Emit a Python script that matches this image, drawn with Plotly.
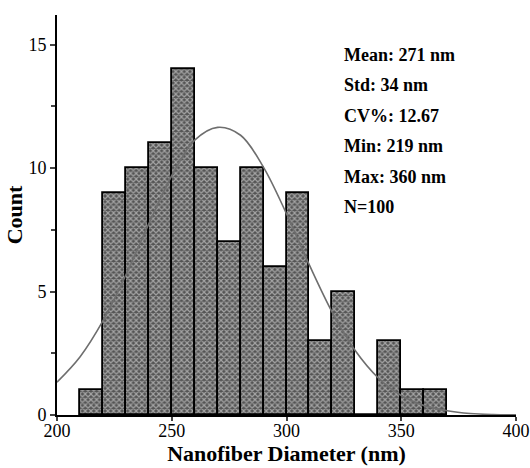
import plotly.graph_objects as go

# Histogram bins (left edges, nm) and counts
bin_left = [210, 220, 230, 240, 250, 260, 270, 280, 290, 300, 310, 320, 330, 340, 350, 360]
counts = [1, 9, 10, 11, 14, 10, 7, 10, 6, 9, 3, 5, 0, 3, 1, 1]
bin_width = 10

# Normal fit curve
curve_x = [200, 210, 220, 230, 240, 250, 260, 270, 280, 290, 300, 310, 320, 330, 340, 350, 360, 370, 380, 390, 400]
curve_y = [1.33, 2.35, 3.81, 5.67, 7.74, 9.69, 11.13, 11.65, 11.33, 10.03, 8.15, 6.07, 4.15, 2.60, 1.50, 0.79, 0.38, 0.17, 0.06, 0.02, 0.01]

stats_lines = ["Mean: 271 nm", "Std: 34 nm", "CV%: 12.67", "Min: 219 nm", "Max: 360 nm", "N=100"]

x_ticks = [200, 250, 300, 350, 400]
y_ticks = [0, 5, 10, 15]

font_family = "Liberation Serif"

fig = go.Figure()
fig.add_trace(go.Bar(
    x=bin_left, y=counts, width=[bin_width] * len(bin_left), offset=0,
    marker=dict(
        color="#545454",
        line=dict(color="black", width=1.8),
        pattern=dict(shape="x", fgcolor="#f4f4f4", bgcolor="#545454", size=4, solidity=0.5),
    ),
    showlegend=False,
))
fig.add_trace(go.Scatter(
    x=curve_x, y=curve_y, mode="lines", line=dict(color="#6e6e6e", width=1.6, shape="spline"),
    showlegend=False,
))

for i, t in enumerate(stats_lines):
    fig.add_annotation(
        x=0.62, xref="paper", y=0.9 - i * 0.076, yref="paper",
        text="<b>" + t + "</b>", showarrow=False, xanchor="left", yanchor="middle",
        font=dict(family=font_family, size=18, color="black"),
    )

fig.update_layout(
    width=530, height=468,
    margin=dict(l=57, r=14, t=15, b=53, autoexpand=False),
    paper_bgcolor="white", plot_bgcolor="white",
    bargap=0,
    font=dict(family=font_family, size=18, color="black"),
)
fig.update_xaxes(
    range=[200, 400], tickvals=x_ticks, ticks="outside", ticklen=4, tickwidth=1.5,
    ticklabelstandoff=-6,
    showline=True, linecolor="black", linewidth=2, showgrid=False, zeroline=False,
    automargin=False,
    title=dict(text="<b>Nanofiber Diameter (nm)</b>", font=dict(family=font_family, size=22), standoff=2),
    tickfont=dict(family=font_family, size=18),
)
fig.update_yaxes(
    range=[0, 16.2], tickvals=y_ticks, ticks="outside", ticklen=5, tickwidth=1.5,
    showline=True, linecolor="black", linewidth=2, showgrid=False, zeroline=False,
    automargin=False,
    minor=dict(tickvals=[2.5, 7.5, 12.5], ticks="outside", ticklen=4, tickwidth=1.5),
    title=dict(text="<b>Count</b>", font=dict(family=font_family, size=22), standoff=0),
    tickfont=dict(family=font_family, size=18),
)

fig.write_html("out.html")
